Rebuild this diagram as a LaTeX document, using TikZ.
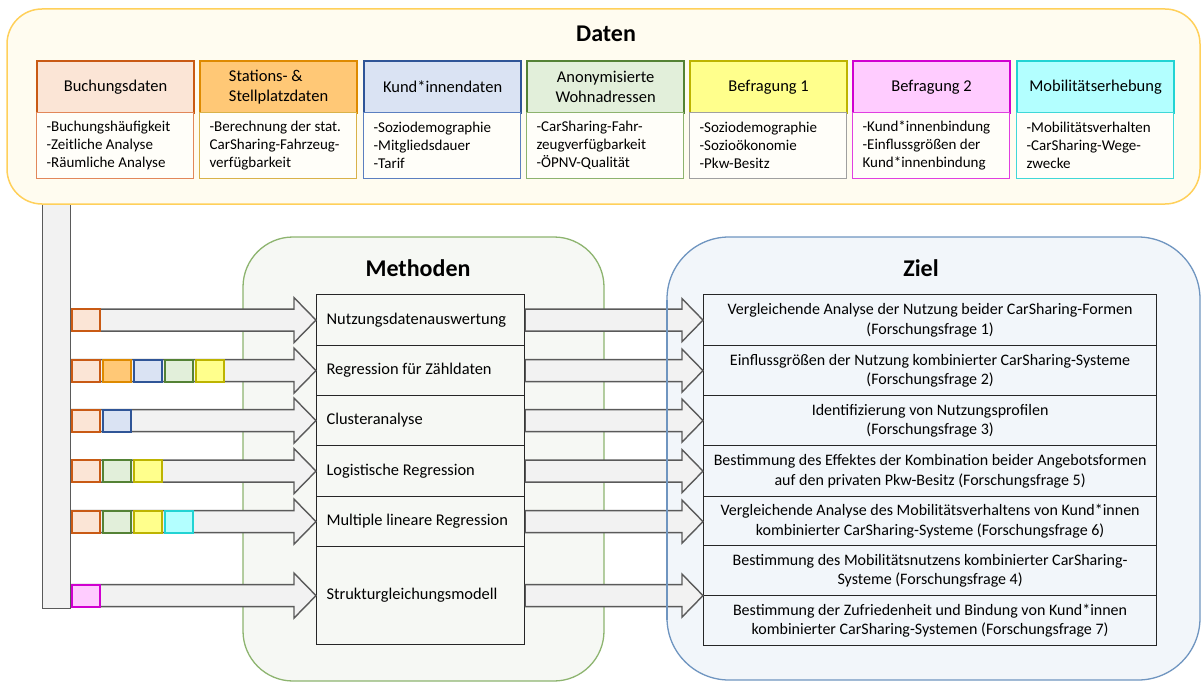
\documentclass[tikz,border=0pt]{standalone}
\usepackage{fontspec}
\setmainfont{Carlito}
\usetikzlibrary{calc}

% frame colours
\definecolor{datenfill}{HTML}{FFFCF0}
\definecolor{datenline}{HTML}{FFD05A}
\definecolor{methfill}{HTML}{F6F8F4}
\definecolor{methline}{HTML}{8DB46F}
\definecolor{zielfill}{HTML}{F2F6FA}
\definecolor{zielline}{HTML}{6F95C0}
\definecolor{arrowfill}{HTML}{F2F2F2}
\definecolor{arrowline}{HTML}{5A5A5A}
\definecolor{tableline}{HTML}{262626}
% data source colours: header fill, header line, body line
\definecolor{buchF}{HTML}{FBE5D6}\definecolor{buchD}{HTML}{C95A14}\definecolor{buchB}{HTML}{E2875A}
\definecolor{statF}{HTML}{FFC876}\definecolor{statD}{HTML}{DE8A00}\definecolor{statB}{HTML}{D9B24A}
\definecolor{kundF}{HTML}{DAE3F3}\definecolor{kundD}{HTML}{2F5597}\definecolor{kundB}{HTML}{5B7FC0}
\definecolor{anonF}{HTML}{E2EFDA}\definecolor{anonD}{HTML}{548235}\definecolor{anonB}{HTML}{8DB36E}
\definecolor{befaF}{HTML}{FFFF8C}\definecolor{befaD}{HTML}{BDB400}\definecolor{befaB}{HTML}{A0A0A0}
\definecolor{befbF}{HTML}{FFCCFF}\definecolor{befbD}{HTML}{D000D0}\definecolor{befbB}{HTML}{E040E0}
\definecolor{mobiF}{HTML}{B3FFFF}\definecolor{mobiD}{HTML}{22D3D3}\definecolor{mobiB}{HTML}{40D8D8}

\tikzset{
  ttl/.style={font=\fontsize{24}{28}\bfseries\selectfont, inner sep=0pt},
  dhead/.style={anchor=north west, minimum width=157pt, minimum height=52pt, inner sep=0pt,
    line width=2.2pt, font=\fontsize{16.5}{19.5}\selectfont},
  dbody/.style={anchor=north west, minimum width=157pt, minimum height=66pt, inner xsep=10pt,
    inner ysep=0pt, text width=137pt, align=flush left, line width=1.2pt, fill=datenfill!40!white,
    font=\fontsize{15}{18}\selectfont},
  methrow/.style={anchor=north west, draw=tableline, fill=methfill, line width=1.2pt,
    text width=188pt, inner xsep=10pt, inner ysep=0pt, align=flush left,
    font=\fontsize{16.4}{19.5}\selectfont},
  goalrow/.style={anchor=north west, draw=tableline, fill=zielfill, line width=1.2pt,
    minimum width=453pt, inner sep=0pt, align=center,
    font=\fontsize{16}{19.5}\selectfont},
  blk/.style={draw=arrowline, fill=arrowfill, line width=1.4pt, line join=miter},
  marker/.style={anchor=west, minimum width=28pt, minimum height=22pt, inner sep=0pt, line width=2pt},
  cbuch/.style={fill=buchF, draw=buchD},
  cstat/.style={fill=statF, draw=statD},
  ckund/.style={fill=kundF, draw=kundD},
  canon/.style={fill=anonF, draw=anonD},
  cbefa/.style={fill=befaF, draw=befaD},
  cbefb/.style={fill=befbF, draw=befbD},
  cmobi/.style={fill=mobiF, draw=mobiD},
}

% block arrow from the collector bar to a method row
\newcommand\feedarrow[1]{%
  \draw[blk] let \p1=(#1.west), \p2=(bar.east) in
    (\x2,\y1+11pt) -- (\x1-22pt,\y1+11pt) -- (\x1-22pt,\y1+22.5pt) -- (\x1,\y1)
    -- (\x1-22pt,\y1-22.5pt) -- (\x1-22pt,\y1-11pt) -- (\x2,\y1-11pt) -- cycle;}
% block arrow from a method row to the goal table
\newcommand\goalarrow[1]{%
  \draw[blk] let \p1=(#1.east), \p2=(g1.west) in
    (\x1,\y1+11pt) -- (\x2-21pt,\y1+11pt) -- (\x2-21pt,\y1+21.5pt) -- (\x2,\y1)
    -- (\x2-21pt,\y1-21.5pt) -- (\x2-21pt,\y1-11pt) -- (\x1,\y1-11pt) -- cycle;}

\begin{document}
\begin{tikzpicture}[x=1pt,y=-1pt]
\useasboundingbox (0,0) rectangle (1201,682);

% collector bar on the left
\node[draw=arrowline, fill=arrowfill, line width=1.4pt, minimum width=28pt, minimum height=420pt,
      inner sep=0pt, anchor=south west] (bar) at (42,609) {};

% data frame
\draw[draw=datenline, fill=datenfill, line width=1.5pt, rounded corners=35pt] (7,9) rectangle (1200,204);
\node[ttl] (tdaten) at (606,34) {Daten};

% data sources
\node[dhead, cbuch] (h1) at (36,60) {Buchungsdaten};
\node[dbody, draw=buchB] (b1) at (36,112) {-Buchungshäufigkeit\\-Zeitliche Analyse\\-Räumliche Analyse};
\node[dhead, cstat, align=left] (h2) at (199,60) {Stations- \&\\Stellplatzdaten};
\node[dbody, draw=statB] (b2) at (199,112) {-Berechnung der stat.\\CarSharing-Fahrzeug-\\verfügbarkeit};
\node[dhead, ckund] (h3) at (363,60) {Kund*innendaten};
\node[dbody, draw=kundB] (b3) at (363,112) {-Soziodemographie\\-Mitgliedsdauer\\-Tarif};
\node[dhead, canon, align=center] (h4) at (526,60) {Anonymisierte\\Wohnadressen};
\node[dbody, draw=anonB] (b4) at (526,112) {-CarSharing-Fahr-\\zeugverfügbarkeit\\-ÖPNV-Qualität};
\node[dhead, cbefa] (h5) at (689,60) {Befragung 1};
\node[dbody, draw=befaB] (b5) at (689,112) {-Soziodemographie\\-Sozioökonomie\\-Pkw-Besitz};
\node[dhead, cbefb] (h6) at (852,60) {Befragung 2};
\node[dbody, draw=befbB] (b6) at (852,112) {-Kund*innenbindung\\-Einflussgrößen der\\Kund*innenbindung};
\node[dhead, cmobi] (h7) at (1016,60) {Mobilitätserhebung};
\node[dbody, draw=mobiB] (b7) at (1016,112) {-Mobilitätsverhalten\\-CarSharing-Wege-\\zwecke};

% method and goal frames
\draw[draw=methline, fill=methfill, line width=1.3pt, rounded corners=50pt] (243,237) rectangle (604,681);
\node[ttl] (tmeth) at (418,268) {Methoden};
\draw[draw=zielline, fill=zielfill, line width=1.3pt, rounded corners=62pt] (667,237) rectangle (1200,680);
\node[ttl] (tziel) at (921,268) {Ziel};

% method table
\node[methrow, minimum height=51pt] (m1) at (316,294) {Nutzungsdatenauswertung};
\node[methrow, minimum height=50pt] (m2) at (316,345) {Regression für Zähldaten};
\node[methrow, minimum height=50pt] (m3) at (316,395) {Clusteranalyse};
\node[methrow, minimum height=51pt] (m4) at (316,445) {Logistische Regression};
\node[methrow, minimum height=50pt] (m5) at (316,496) {Multiple lineare Regression};
\node[methrow, minimum height=98pt] (m6) at (316,546) {Strukturgleichungsmodell};

% goal table
\node[goalrow, minimum height=51pt] (g1) at (703,294) {Vergleichende Analyse der Nutzung beider CarSharing-Formen\\(Forschungsfrage 1)};
\node[goalrow, minimum height=50pt] (g2) at (703,345) {Einflussgrößen der Nutzung kombinierter CarSharing-Systeme\\(Forschungsfrage 2)};
\node[goalrow, minimum height=50pt] (g3) at (703,395) {Identifizierung von Nutzungsprofilen\\(Forschungsfrage 3)};
\node[goalrow, minimum height=51pt] (g4) at (703,445) {Bestimmung des Effektes der Kombination beider Angebotsformen\\auf den privaten Pkw-Besitz (Forschungsfrage 5)};
\node[goalrow, minimum height=49pt] (g5) at (703,496) {Vergleichende Analyse des Mobilitätsverhaltens von Kund*innen\\kombinierter CarSharing-Systeme (Forschungsfrage 6)};
\node[goalrow, minimum height=50pt] (g6) at (703,545) {Bestimmung des Mobilitätsnutzens kombinierter CarSharing-\\Systeme (Forschungsfrage 4)};
\node[goalrow, minimum height=50pt] (g7) at (703,595) {Bestimmung der Zufriedenheit und Bindung von Kund*innen\\kombinierter CarSharing-Systemen (Forschungsfrage 7)};

% arrows: data -> methods -> goals
\foreach \m in {m1,m2,m3,m4,m5,m6} {\feedarrow{\m}\goalarrow{\m}}

% goal frame edge stays visible across the arrows
\draw[draw=zielline, line width=1.3pt] (667,300) -- (667,620);

% data source markers on the arrows
\node[marker, cbuch] (s11) at ([xshift=-0.5pt]bar.east |- m1.west) {};

\node[marker, cbuch] (s21) at ([xshift=-0.5pt]bar.east |- m2.west) {};
\node[marker, cstat] (s22) at ([xshift=1pt]s21.east) {};
\node[marker, ckund] (s23) at ([xshift=1pt]s22.east) {};
\node[marker, canon] (s24) at ([xshift=1pt]s23.east) {};
\node[marker, cbefa] (s25) at ([xshift=1pt]s24.east) {};

\node[marker, cbuch] (s31) at ([xshift=-0.5pt]bar.east |- m3.west) {};
\node[marker, ckund] (s32) at ([xshift=1pt]s31.east) {};

\node[marker, cbuch] (s41) at ([xshift=-0.5pt]bar.east |- m4.west) {};
\node[marker, canon] (s42) at ([xshift=1pt]s41.east) {};
\node[marker, cbefa] (s43) at ([xshift=1pt]s42.east) {};

\node[marker, cbuch] (s51) at ([xshift=-0.5pt]bar.east |- m5.west) {};
\node[marker, canon] (s52) at ([xshift=1pt]s51.east) {};
\node[marker, cbefa] (s53) at ([xshift=1pt]s52.east) {};
\node[marker, cmobi] (s54) at ([xshift=1pt]s53.east) {};

\node[marker, cbefb] (s61) at ([xshift=-0.5pt]bar.east |- m6.west) {};
\end{tikzpicture}
\end{document}
